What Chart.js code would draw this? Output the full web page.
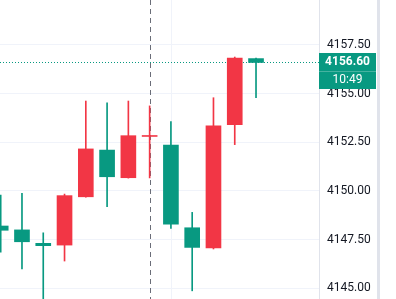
<!DOCTYPE html>
<html>
<head>
<meta charset="utf-8">
<script src="https://cdn.jsdelivr.net/npm/chart.js@4.4.0/dist/chart.umd.min.js"></script>
<style>
  html, body { margin: 0; padding: 0; background: #fff; }
</style>
</head>
<body>
<canvas id="chart" width="396" height="299"></canvas>
<script>
// candles, oldest first (red = up, green = down)
var opens  = [4148.20, 4148.00, 4147.31, 4147.22, 4149.70, 4152.10, 4150.68, 4152.80, 4152.36, 4148.11, 4147.08, 4153.40, 4156.80];
var highs  = [4149.79, 4149.88, 4147.85, 4149.84, 4154.62, 4154.53, 4154.62, 4154.37, 4153.56, 4148.90, 4154.79, 4156.88, 4156.82];
var lows   = [4146.86, 4145.99, 4144.30, 4146.40, 4149.68, 4149.19, 4150.66, 4150.67, 4148.08, 4144.87, 4147.02, 4152.38, 4154.79];
var closes = [4147.98, 4147.39, 4147.19, 4149.76, 4152.16, 4150.73, 4152.84, 4152.85, 4148.29, 4147.10, 4153.35, 4156.83, 4156.60];
var priceTicks = [4145, 4147.5, 4150, 4152.5, 4155, 4157.5, 4160];
var lastPrice = 4156.60;
var countdown = '10:49';
var crosshairIndex = 7;
var gridIndex = 8;

var UP = '#f23645', DOWN = '#089981';

var colors = opens.map(function (o, i) { return closes[i] >= o ? UP : DOWN; });
var bodies = opens.map(function (o, i) { return { x: i, y: [o, closes[i]] }; });
var wicks = opens.map(function (o, i) { return { x: i, y: [lows[i], highs[i]] }; });

var extras = {
  id: 'extras',
  beforeDatasetsDraw: function (chart) {
    var c = chart.ctx, a = chart.chartArea;
    var xs = chart.scales.x, ys = chart.scales.y;
    c.save();
    // vertical grid line
    var gx = Math.round(xs.getPixelForValue(gridIndex)) + 0.5;
    c.strokeStyle = '#f0f3fa';
    c.lineWidth = 1;
    c.beginPath(); c.moveTo(gx, a.top); c.lineTo(gx, a.bottom); c.stroke();
    // crosshair
    var cx = Math.round(xs.getPixelForValue(crosshairIndex)) + 0.5;
    c.strokeStyle = '#6a6d78';
    c.setLineDash([5, 4]);
    c.beginPath(); c.moveTo(cx, a.top); c.lineTo(cx, a.bottom); c.stroke();
    // last price dotted line
    var py = Math.round(ys.getPixelForValue(lastPrice)) + 0.5;
    c.strokeStyle = DOWN;
    c.setLineDash([1, 2]);
    c.beginPath(); c.moveTo(a.left, py); c.lineTo(a.right, py); c.stroke();
    c.restore();
  },
  afterDraw: function (chart) {
    var c = chart.ctx, a = chart.chartArea, ys = chart.scales.y;
    var py = ys.getPixelForValue(lastPrice);
    var x0 = a.right, w = 57;
    c.save();
    // partly hidden top label
    c.fillStyle = '#131722';
    c.font = '12px Roboto';
    c.textBaseline = 'middle';
    c.fillText(priceTicks[priceTicks.length - 1].toFixed(2), x0 + 8, ys.getPixelForValue(4160));
    c.fillStyle = DOWN;
    c.fillRect(x0, Math.round(py - 9), w, 36);
    c.fillStyle = 'rgba(255,255,255,0.25)';
    c.fillRect(x0, Math.round(py + 9), w, 1);
    c.fillStyle = '#fff';
    c.textAlign = 'center';
    c.font = 'bold 12px Roboto';
    c.fillText(lastPrice.toFixed(2), x0 + w / 2, py);
    c.font = '12px Roboto';
    c.fillText(countdown, x0 + w / 2, py + 18);
    // side strip
    c.fillStyle = '#e0e3eb';
    c.fillRect(a.right + 58, 0, 3, chart.height);
    c.restore();
  }
};

new Chart(document.getElementById('chart'), {
  type: 'bar',
  data: {
    datasets: [
      { data: bodies, backgroundColor: colors, barThickness: 15, grouped: false, order: 1 },
      { data: wicks, backgroundColor: colors, barThickness: 1, grouped: false, order: 2 }
    ]
  },
  options: {
    responsive: false,
    animation: false,
    layout: { padding: 0 },
    plugins: { legend: { display: false }, tooltip: { enabled: false } },
    scales: {
      x: { type: 'linear', offset: false, min: -0.033, max: 14.96, display: false },
      y: {
        position: 'right',
        min: 4144.45,
        max: 4159.81,
        afterBuildTicks: function (scale) {
          scale.ticks = priceTicks.map(function (v) { return { value: v }; });
        },
        afterFit: function (scale) {
          scale.width = 77;
          scale.paddingTop = 0;
          scale.paddingBottom = 0;
        },
        grid: { color: '#f0f3fa', drawTicks: false },
        border: { color: '#e0e3eb' },
        ticks: {
          padding: 8,
          color: '#131722',
          font: { family: 'Roboto', size: 12 },
          callback: function (v) { return Number(v).toFixed(2); }
        }
      }
    }
  },
  plugins: [extras]
});
</script>
</body>
</html>
